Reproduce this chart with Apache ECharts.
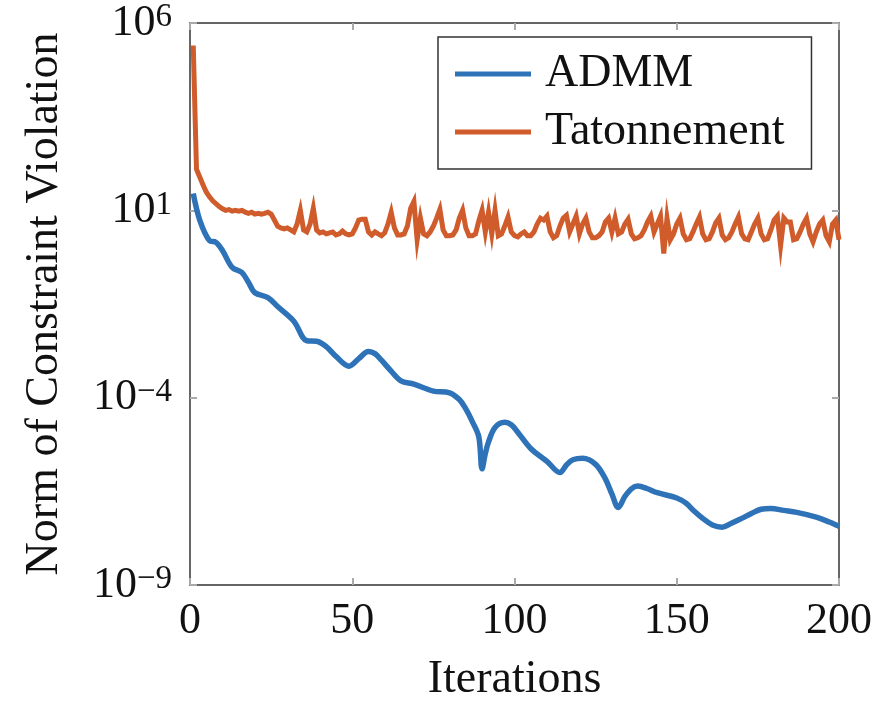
<!DOCTYPE html>
<html>
<head>
<meta charset="utf-8">
<script src="https://cdn.jsdelivr.net/npm/echarts@6/dist/echarts.min.js"></script>
<style>
html,body{margin:0;padding:0;background:#fff;}
#chart{width:877px;height:708px;}
</style>
</head>
<body>
<div id="chart"></div>
<script>
// ---- data ----
const seriesNames = ['ADMM', 'Tatonnement'];
const xTicks = [0, 50, 100, 150, 200];
const yTickExponents = [6, 1, -4, -9];

const admmIter = [1, 3, 6, 8, 10, 13, 16, 18, 20, 24, 27, 32, 36, 39, 42, 45, 49, 52, 55, 57, 59, 62, 65, 69, 75, 80, 83, 85, 87, 89, 90, 91, 92, 94, 97, 99, 101, 105, 110, 114, 116, 118, 121, 125, 128, 130, 132, 134, 136, 138, 141, 144, 150, 153, 155, 158, 161, 164, 167, 170, 173, 176, 179, 183, 187, 193, 197, 200];
const admmVal = [28, 5.5, 1.55, 1.4, 0.85, 0.30, 0.22, 0.12, 0.063, 0.047, 0.027, 0.011, 3.3e-3, 3.2e-3, 2.3e-3, 1.26e-3, 6.9e-4, 1.1e-3, 1.7e-3, 1.5e-3, 1.0e-3, 5.1e-4, 2.8e-4, 2.3e-4, 1.5e-4, 1.35e-4, 8.9e-5, 5.0e-5, 2.3e-5, 9.0e-6, 1.26e-6, 3.2e-6, 6.6e-6, 1.6e-5, 2.2e-5, 1.9e-5, 1.2e-5, 4.4e-6, 2.0e-6, 1.0e-6, 1.6e-6, 2.2e-6, 2.4e-6, 1.66e-6, 6.8e-7, 2.7e-7, 1.17e-7, 2.3e-7, 3.7e-7, 4.4e-7, 3.7e-7, 2.9e-7, 2.1e-7, 1.5e-7, 1.0e-7, 6.0e-8, 4.0e-8, 3.5e-8, 4.5e-8, 6.0e-8, 8.1e-8, 1.05e-7, 1.1e-7, 9.8e-8, 8.7e-8, 6.5e-8, 4.8e-8, 3.7e-8];

// Tatonnement: one value per iteration, iterations 1..200
const tatVal = [
  2.5e5, 125, 78, 48, 31, 23, 18, 15, 12.6, 11,
  10, 10.5, 9.5, 10, 9.5, 10, 8.9, 8.3, 8.9, 7.9,
  8.3, 7.9, 8.3, 8.9, 7.9, 5.5, 3.8, 3.4, 3.2, 3.4,
  3.0, 2.65, 4.3, 10, 3.0, 2.65, 4.3, 11.3, 3.0, 2.5,
  2.65, 2.35, 2.5, 2.65, 2.2, 2.35, 2.8, 2.35, 2.2, 2.35,
  3.4, 5.5, 5.8, 5.8, 2.65, 2.2, 2.65, 2.35, 2.1, 2.5,
  4.3, 8.9, 3.4, 2.2, 2.2, 2.35, 3.8, 11.3, 17.2, 1.64,
  6.2, 2.35, 2.1, 2.65, 3.8, 6.2, 10.6, 3.0, 2.1, 2.1,
  2.2, 3.0, 6.2, 10, 3.4, 2.1, 2.1, 2.35, 5.2, 10,
  2.65, 8.9, 2.35, 10, 2.1, 2.35, 3.8, 6.6, 2.65, 2.1,
  1.96, 2.35, 2.65, 2.1, 2.1, 2.65, 4.3, 6.2, 5.5, 7.0,
  2.65, 1.85, 2.1, 3.8, 6.2, 7.4, 2.65, 4.3, 7.0, 2.35,
  4.3, 6.2, 2.65, 1.85, 1.85, 2.1, 2.65, 4.9, 6.2, 2.65,
  6.2, 2.35, 2.65, 4.3, 5.8, 2.35, 1.74, 1.85, 2.1, 3.0,
  4.9, 7.0, 2.65, 4.3, 7.0, 0.7, 6.2, 1.64, 2.35, 4.3,
  6.2, 2.35, 1.64, 1.74, 2.65, 4.3, 6.6, 2.35, 1.64, 1.74,
  2.65, 4.6, 6.2, 2.2, 1.64, 1.85, 2.65, 4.3, 6.6, 2.35,
  1.74, 1.64, 2.65, 4.3, 6.2, 2.35, 1.64, 1.74, 3.0, 5.5,
  7.0, 1.14, 6.2, 4.9, 4.9, 1.64, 1.74, 2.65, 4.3, 6.2,
  2.35, 1.45, 2.65, 4.3, 5.5, 2.1, 1.45, 4.3, 5.5, 1.64
];

// ---- build ----
const FONT = '"Liberation Serif", "Times New Roman", serif';
const BLUE = '#2E73B8';
const ORANGE = '#D05B2B';
const admmData = admmIter.map((x, i) => [x, admmVal[i]]);
const tatData = tatVal.map((v, i) => [i + 1, v]);

function yLabel(v) {
  const e = Math.round(Math.log10(v));
  return '{b|10}{s|' + String(e).replace('-', '\u2212') + '}';
}

const tickStyle = { show: true, inside: true, length: 7, lineStyle: { color: '#aaaaaa', width: 2 } };
const axisLineStyle = { show: true, onZero: false, lineStyle: { color: '#333333', width: 1.5 } };

const chart = echarts.init(document.getElementById('chart'), null, { renderer: 'canvas' });
chart.setOption({
  backgroundColor: '#ffffff',
  animation: false,
  grid: { left: 190, right: 38, top: 23, bottom: 114, containLabel: false },
  legend: {
    data: seriesNames,
    orient: 'vertical',
    left: 438, top: 37,
    icon: 'rect',
    itemWidth: 76, itemHeight: 5,
    itemGap: 12,
    padding: [14, 27, 14, 17],
    borderColor: '#333333', borderWidth: 1.5,
    backgroundColor: '#ffffff',
    textStyle: { fontFamily: FONT, fontSize: 46, color: '#111', lineHeight: 44, padding: [0, 0, 0, 9] }
  },
  xAxis: [
    {
      type: 'value', min: xTicks[0], max: xTicks[xTicks.length - 1], interval: 50,
      name: 'Iterations', nameLocation: 'middle', nameGap: 72,
      nameTextStyle: { fontFamily: FONT, fontSize: 46, color: '#111' },
      axisLine: axisLineStyle, axisTick: tickStyle,
      axisLabel: { fontFamily: FONT, fontSize: 44, color: '#111', margin: 14 },
      splitLine: { show: false }
    },
    {
      type: 'value', position: 'top', min: xTicks[0], max: xTicks[xTicks.length - 1], interval: 50,
      axisLine: axisLineStyle, axisTick: tickStyle, axisLabel: { show: false }, splitLine: { show: false }
    }
  ],
  yAxis: [
    {
      type: 'log', logBase: 10, min: 1e-9, max: 1e6, interval: 5,
      name: 'Norm of Constraint Violation', nameLocation: 'middle', nameGap: 122,
      nameTextStyle: { fontFamily: FONT, fontSize: 46, color: '#111' },
      axisLine: axisLineStyle, axisTick: tickStyle,
      axisLabel: {
        formatter: yLabel, margin: 18,
        rich: {
          b: { fontFamily: FONT, fontSize: 44, color: '#111', lineHeight: 44 },
          s: { fontFamily: FONT, fontSize: 33, color: '#111', lineHeight: 30, verticalAlign: 'top' }
        }
      },
      splitLine: { show: false }, minorTick: { show: false }
    },
    {
      type: 'log', logBase: 10, min: 1e-9, max: 1e6, interval: 5, position: 'right',
      axisLine: axisLineStyle, axisTick: tickStyle, axisLabel: { show: false },
      splitLine: { show: false }
    }
  ],
  series: [
    {
      name: seriesNames[0], type: 'line', data: admmData, showSymbol: false, symbol: 'none',
      smooth: 0.35, lineStyle: { color: BLUE, width: 5.5 }, itemStyle: { color: BLUE }, z: 3, clip: true
    },
    {
      name: seriesNames[1], type: 'line', data: tatData, showSymbol: false, symbol: 'none',
      lineStyle: { color: ORANGE, width: 5, join: 'miter' }, itemStyle: { color: ORANGE }, z: 2, clip: true
    }
  ]
});
</script>
</body>
</html>
